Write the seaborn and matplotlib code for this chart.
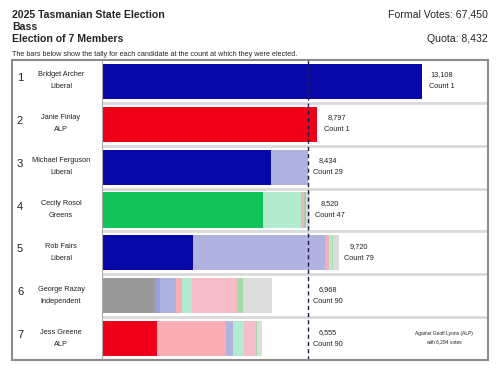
import pandas as pd
import seaborn as sns
import matplotlib.pyplot as plt
import matplotlib.transforms as mtransforms
from matplotlib.patches import Rectangle

sns.set_theme(style="white")
plt.rcParams['font.family'] = ['Liberation Sans', 'DejaVu Sans']

quota = 8432
formal_votes = 67450
candidates = ["Bridget Archer", "Janie Finlay", "Michael Ferguson", "Cecily Rosol",
              "Rob Fairs", "George Razay", "Jess Greene"]
parties = ["Liberal", "ALP", "Liberal", "Greens", "Liberal", "Independent", "ALP"]
tallies = [13108, 8797, 8434, 8520, 9720, 6968, 6555]
counts = [1, 1, 29, 47, 79, 90, 90]
# votes making up each tally (primary first, then transfers)
segments = [
    [13108],
    [8797],
    [6911, 1523],
    [6583, 1569, 120, 80, 168],
    [3740, 5396, 176, 100, 64, 244],
    [2171, 205, 656, 245, 396, 1844, 273, 1178],
    [2266, 2814, 300, 450, 466, 41, 218],
]
seg_colors = [
    ["#0808a8"],
    ["#ee0018"],
    ["#0808a8", "#b0b3e0"],
    ["#12c25a", "#b3ebcf", "#f0b4bc", "#a8c8b0", "#dcdcdc"],
    ["#0808a8", "#b0b3e0", "#f4b0b8", "#b4ecd0", "#a8dca8", "#dcdcdc"],
    ["#999999", "#9a9ed8", "#b0b3e0", "#f8aeb3", "#b3ebcf", "#f6bcc8", "#a9d8a9", "#dcdcdc"],
    ["#ee0018", "#f8aeb3", "#b0b3e0", "#b3ebcf", "#f6bcc8", "#a9d8a9", "#dcdcdc"],
]

# long table of cumulative tallies for stacking
rows = []
for name, segs, cols in zip(candidates, segments, seg_colors):
    cum = 0
    for k, (v, c) in enumerate(zip(segs, cols)):
        cum += v
        rows.append({"candidate": name, "seg": k, "cum": cum, "color": c})
df = pd.DataFrame(rows)

W, H = 500, 370
fig = plt.figure(figsize=(5, 3.7), dpi=100)
ax = fig.add_axes([102 / W, 1 - 360 / H, 386 / W, 300 / H])

for k in sorted(df["seg"].unique(), reverse=True):
    sub = df[df["seg"] == k]
    sns.barplot(data=sub, x="cum", y="candidate", hue="candidate", order=candidates,
                palette=dict(zip(sub["candidate"], sub["color"])), width=0.82,
                saturation=1, errorbar=None, legend=False, linewidth=0, ax=ax)

for i in range(len(candidates) - 1):
    ax.axhline(i + 0.5, color="#d9d9d9", lw=2, zorder=0.5)
ax.axvline(quota, color="#1c1c4c", lw=1, ls=(0, (3, 2.2)), zorder=5)

ax.set_xlim(0, 15810)
ax.set_ylim(len(candidates) - 0.5, -0.5)
ax.set_xticks([])
ax.set_yticks([])
ax.set_xlabel("")
ax.set_ylabel("")
for s in ["top", "right", "bottom"]:
    ax.spines[s].set_visible(False)
ax.spines["left"].set_color("#aaaaaa")
ax.spines["left"].set_linewidth(0.8)

# value labels
for i, (t, c) in enumerate(zip(tallies, counts)):
    xpos = max(t, quota) + 810
    ax.text(xpos, i - 0.15, f"{t:,}", ha="center", va="center", fontsize=5.3, color="#222222")
    ax.text(xpos, i + 0.13, f"Count {c}", ha="center", va="center", fontsize=5.3, color="#222222")

ax.text(14000, 6 - 0.12, "Against Geoff Lyons (ALP)", ha="center", va="center", fontsize=3.5, color="#222222")
ax.text(14000, 6 + 0.08, "with 6,294 votes", ha="center", va="center", fontsize=3.5, color="#222222")

# left column labels
trans = mtransforms.blended_transform_factory(fig.transFigure, ax.transData)
for i, (name, party) in enumerate(zip(candidates, parties)):
    ax.text(20 / W, i - 0.08, str(i + 1), transform=trans, ha="center", va="center",
            fontsize=8, color="#222222")
    ax.text(61 / W, i - 0.15, name, transform=trans, ha="center", va="center",
            fontsize=5.3, color="#222222")
    ax.text(61 / W, i + 0.13, party, transform=trans, ha="center", va="center",
            fontsize=5.3, color="#222222")

# outer box
fig.add_artist(Rectangle((12 / W, 10 / H), 476 / W, 300 / H, transform=fig.transFigure,
                         fill=False, edgecolor="#8c8c8c", lw=1.5))

# header
fig.text(12 / W, 1 - 15 / H, "2025 Tasmanian State Election", fontsize=7.6, weight="bold", va="center")
fig.text(12 / W, 1 - 27 / H, "Bass", fontsize=7.6, weight="bold", va="center")
fig.text(12 / W, 1 - 39 / H, "Election of 7 Members", fontsize=7.6, weight="bold", va="center")
fig.text(488 / W, 1 - 14.5 / H, f"Formal Votes: {formal_votes:,}", fontsize=7.6, ha="right", va="center")
fig.text(488 / W, 1 - 39 / H, f"Quota: {quota:,}", fontsize=7.6, ha="right", va="center")
fig.text(12 / W, 1 - 54.5 / H,
         "The bars below show the tally for each candidate at the count at which they were elected.",
         fontsize=5.2, va="center")

fig.savefig("out.png", dpi=100)
